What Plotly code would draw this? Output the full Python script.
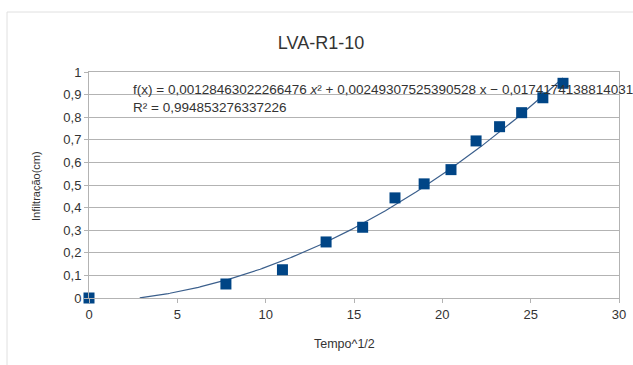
import numpy as np
import plotly.graph_objects as go

# data
tempo_sqrt = [0, 7.75, 10.95, 13.42, 15.49, 17.32, 18.97, 20.49, 21.91, 23.24, 24.49, 25.69, 26.83]
infiltracao = [0, 0.062, 0.125, 0.248, 0.313, 0.443, 0.505, 0.568, 0.695, 0.758, 0.820, 0.886, 0.950]

# trend line coefficients shown in the chart (a2, a1, a0)
trend_coeffs = [0.00128463022266476, 0.00249307525390528, -0.0174174138814031]
r_squared = "0,994853276337226"

x_ticks = [0, 5, 10, 15, 20, 25, 30]
y_ticks = [0, 0.1, 0.2, 0.3, 0.4, 0.5, 0.6, 0.7, 0.8, 0.9, 1]
y_tick_text = ["0", "0,1", "0,2", "0,3", "0,4", "0,5", "0,6", "0,7", "0,8", "0,9", "1"]

FONT = "Liberation Sans, Arial, sans-serif"
TXT = "#333333"

W, H = 633, 365
L, R, T, B = 89, 14, 72, 67
PW, PH = W - L - R, H - T - B


def px_x(p):
    return (p - L) / PW


def px_y(p):
    return (H - B - p) / PH


xs = np.linspace(0, tempo_sqrt[-1], 300)
ys = np.polyval(trend_coeffs, xs)
mask = ys >= 0

fig = go.Figure()
fig.add_trace(go.Scatter(x=xs[mask], y=ys[mask], mode="lines",
                         line=dict(color="#3b5f8c", width=1.2),
                         hoverinfo="skip", showlegend=False))
fig.add_trace(go.Scatter(x=tempo_sqrt, y=infiltracao, mode="markers",
                         marker=dict(symbol="square", size=11, color="#004586",
                                     line=dict(width=0)),
                         cliponaxis=False, showlegend=False))

eq = ("f(x) = 0,00128463022266476 <i>x</i>² + 0,00249307525390528 x − 0,0174174138814031"
      "<br>R² = " + r_squared)
fig.add_annotation(text=eq, xref="paper", yref="paper", x=px_x(131), y=px_y(80),
                   xanchor="left", yanchor="top", align="left", showarrow=False,
                   font=dict(family=FONT, size=13.5, color=TXT))
fig.add_annotation(text="Tempo^1/2", xref="paper", yref="paper", x=px_x(344), y=px_y(344),
                   xanchor="center", yanchor="middle", showarrow=False,
                   font=dict(family=FONT, size=12.5, color=TXT))
fig.add_annotation(text="Infiltração(cm)", xref="paper", yref="paper", x=px_x(36), y=px_y(186),
                   xanchor="center", yanchor="middle", showarrow=False, textangle=-90,
                   font=dict(family=FONT, size=11, color=TXT))

fig.update_layout(
    width=W, height=H,
    margin=dict(l=L, r=R, t=T, b=B, autoexpand=False),
    paper_bgcolor="white", plot_bgcolor="white",
    title=dict(text="LVA-R1-10", x=321 / W, xanchor="center", y=1 - 43 / H, yanchor="middle",
               font=dict(family=FONT, size=18, color=TXT)),
    xaxis=dict(range=[0, 30], tickvals=x_ticks, ticks="outside", ticklen=4, tickcolor="#b3b3b3",
               showgrid=False, zeroline=False, showline=True, linecolor="#b3b3b3", mirror=True,
               automargin=False,
               tickfont=dict(family=FONT, size=13, color=TXT)),
    yaxis=dict(range=[0, 1], tickvals=y_ticks, ticktext=y_tick_text, ticks="outside", ticklen=4,
               tickcolor="#b3b3b3", showgrid=True, gridcolor="#b3b3b3", gridwidth=1,
               zeroline=False, showline=True, linecolor="#b3b3b3", mirror=True,
               automargin=False,
               tickfont=dict(family=FONT, size=13, color=TXT)),
    shapes=[
        dict(type="line", xref="paper", yref="paper", x0=px_x(7), x1=px_x(W), y0=px_y(12), y1=px_y(12),
             line=dict(color="#e0e0e0", width=1), layer="below"),
        dict(type="line", xref="paper", yref="paper", x0=px_x(7), x1=px_x(7), y0=px_y(12), y1=px_y(H),
             line=dict(color="#e0e0e0", width=1), layer="below"),
    ],
)

fig.write_html("out.html")
